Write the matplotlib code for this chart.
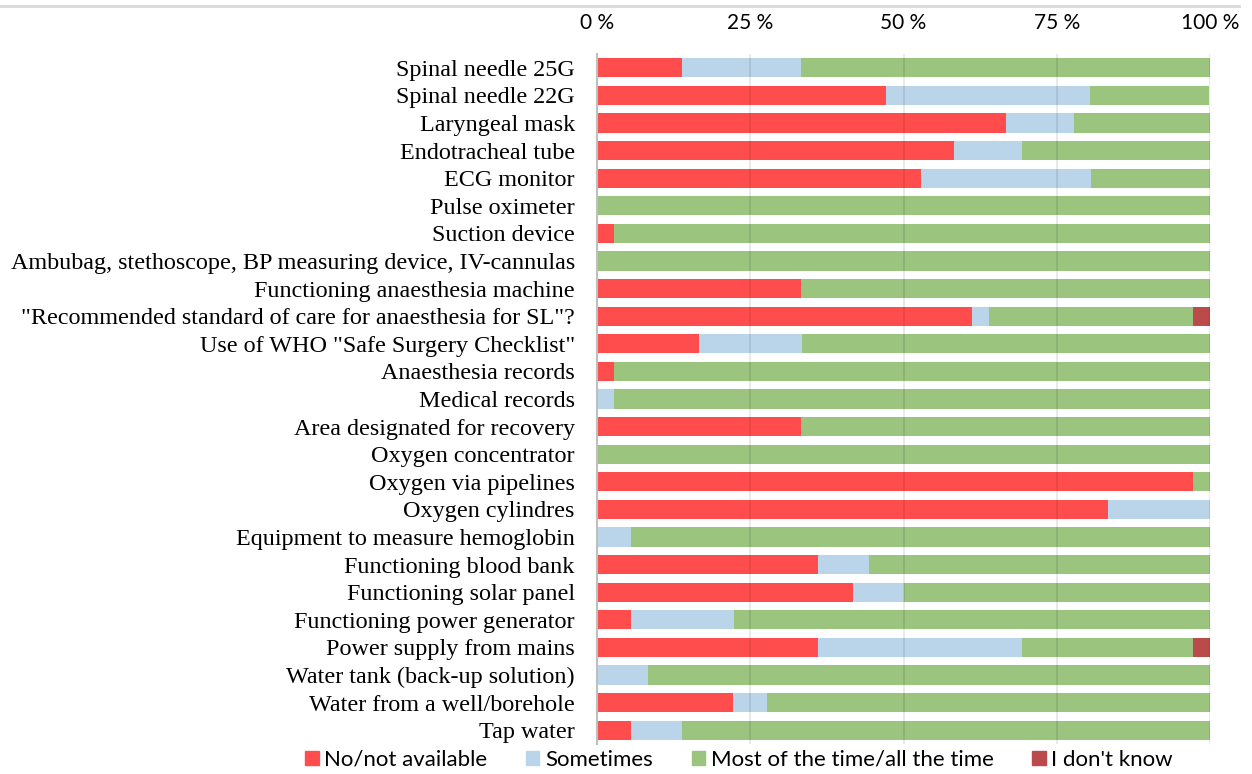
import matplotlib.pyplot as plt
import numpy as np
from matplotlib.lines import Line2D
from matplotlib.patches import Patch

# Категории (сверху вниз)
items = [
    'Spinal needle 25G',
    'Spinal needle 22G',
    'Laryngeal mask',
    'Endotracheal tube',
    'ECG monitor',
    'Pulse oximeter',
    'Suction device',
    'Ambubag, stethoscope, BP measuring device, IV-cannulas',
    'Functioning anaesthesia machine',
    '"Recommended standard of care for anaesthesia for SL"?',
    'Use of WHO "Safe Surgery Checklist"',
    'Anaesthesia records',
    'Medical records',
    'Area designated for recovery',
    'Oxygen concentrator',
    'Oxygen via pipelines',
    'Oxygen cylindres',
    'Equipment to measure hemoglobin',
    'Functioning blood bank',
    'Functioning solar panel',
    'Functioning power generator',
    'Power supply from mains',
    'Water tank (back-up solution)',
    'Water from a well/borehole',
    'Tap water',
]

# Доли ответов, %
no_avail = [13.9, 47.2, 66.7, 58.3, 52.8, 0, 2.8, 0, 33.3, 61.1, 16.7, 2.8, 0,
            33.3, 0, 97.2, 83.3, 0, 36.1, 41.7, 5.6, 36.1, 0, 22.2, 5.6]
sometimes = [19.4, 33.3, 11.1, 11.1, 27.8, 0, 0, 0, 0, 2.8, 16.7, 0, 2.8,
             0, 0, 0, 16.7, 5.6, 8.3, 8.3, 16.7, 33.3, 8.3, 5.6, 8.3]
most_time = [66.7, 19.4, 22.2, 30.6, 19.4, 100, 97.2, 100, 66.7, 33.3, 66.7, 97.2, 97.2,
             66.7, 100, 2.8, 0, 94.4, 55.6, 50.0, 77.8, 27.8, 91.7, 72.2, 86.1]
dont_know = [0, 0, 0, 0, 0, 0, 0, 0, 0, 2.8, 0, 0, 0,
             0, 0, 0, 0, 0, 0, 0, 0, 2.8, 0, 0, 0]

series = [
    ('No/not available', no_avail, '#ff4d4d'),
    ('Sometimes', sometimes, '#bad5ea'),
    ('Most of the time/all the time', most_time, '#9bc47f'),
    ("I don't know", dont_know, '#bb4b4b'),
]
xticks = [0, 25, 50, 75, 100]
xtick_labels = ['0 %', '25 %', '50 %', '75 %', '100 %']

fig = plt.figure(figsize=(12.52, 7.74), dpi=100)
ax = fig.add_axes([597 / 1252, 1 - 744 / 774, 613 / 1252, 690 / 774])

y = np.arange(len(items))
left = np.zeros(len(items))
for name, vals, col in series:
    vals = np.array(vals, dtype=float)
    ax.barh(y, vals, left=left, height=0.69, color=col, label=name, zorder=2)
    left += vals

ax.set_xlim(0, 100)
ax.set_ylim(len(items) - 0.5, -0.5)
ax.set_yticks(y)
ax.set_yticklabels(items, family='Liberation Serif', fontsize=17.4)
ax.tick_params(axis='y', length=0, pad=16)

ax.xaxis.tick_top()
ax.set_xticks(xticks)
ax.set_xticklabels(xtick_labels, family='Lato', fontsize=15)
ax.tick_params(axis='x', length=0, pad=15)

# Сетка поверх столбцов, полупрозрачная
ax.grid(axis='x', color='black', alpha=0.1, linewidth=1.2, zorder=3)
ax.set_axisbelow(False)
for s in ['top', 'bottom', 'right']:
    ax.spines[s].set_visible(False)
ax.spines['left'].set_color('#bfbfbf')
ax.spines['left'].set_linewidth(1.5)
ax.spines['left'].set_zorder(4)

# Серая линия сверху
fig.add_artist(Line2D([0, 0.99], [1 - 6 / 774, 1 - 6 / 774],
                      color='#d9d9d9', linewidth=2, transform=fig.transFigure))

handles = [Patch(color=c, label=n) for n, _, c in series]
fig.legend(handles=handles, loc='center', bbox_to_anchor=(739 / 1252, 1 - 760 / 774),
           ncol=4, frameon=False, prop={'family': 'Lato', 'size': 16},
           handlelength=0.6, handleheight=0.6, handletextpad=0.25,
           columnspacing=1.75, borderpad=0)

plt.savefig('out.png', dpi=100)
